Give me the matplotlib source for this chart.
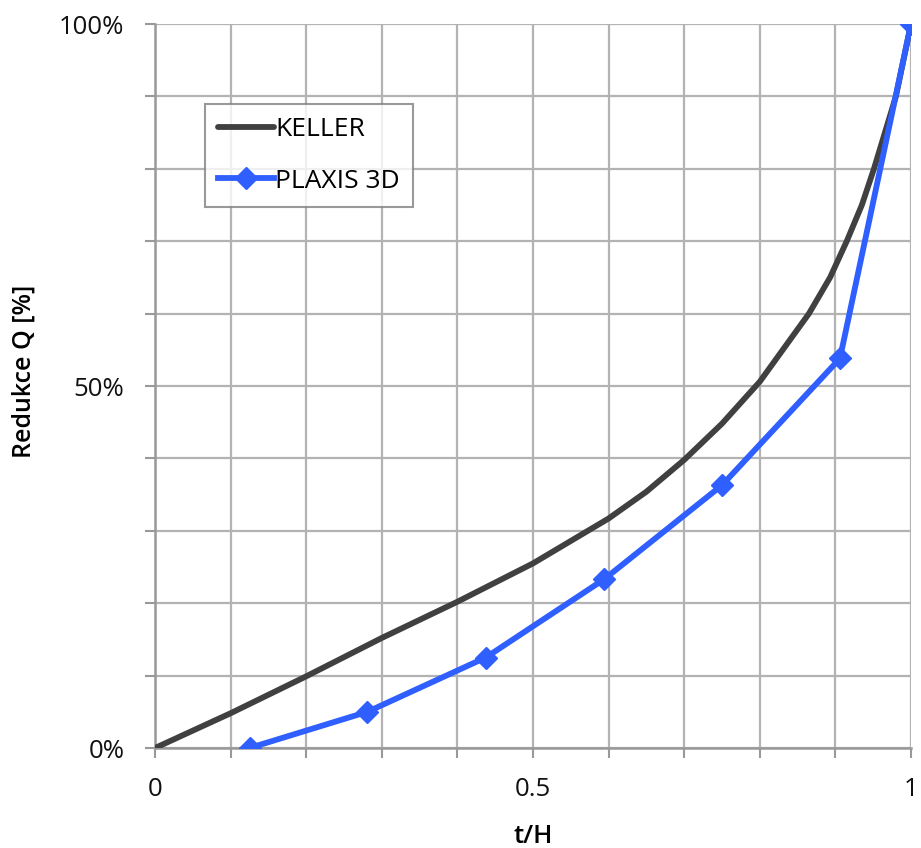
import matplotlib.pyplot as plt
from matplotlib.ticker import MultipleLocator, FixedLocator

plt.rcParams['font.family'] = ['Open Sans', 'DejaVu Sans']

# KELLER curve
keller_x = [0.0, 0.1, 0.2, 0.3, 0.4, 0.5, 0.6, 0.65, 0.7, 0.75, 0.8,
            0.865, 0.893, 0.915, 0.935, 0.951, 0.98, 1.0]
keller_y = [0.0, 4.8, 9.9, 15.2, 20.2, 25.5, 31.7, 35.4, 39.8, 44.8, 50.6,
            60.0, 65.0, 70.0, 75.0, 80.0, 90.0, 100.0]

# PLAXIS 3D points
plaxis_x = [0.125, 0.281, 0.4375, 0.594, 0.75, 0.906, 1.0]
plaxis_y = [0.0, 5.0, 12.5, 23.3, 36.3, 53.8, 100.0]

x_labels = ['0', '0.5', '1']
y_labels = ['0%', '50%', '100%']

fig = plt.figure(figsize=(9.21, 8.48), dpi=100)
ax = fig.add_axes([155 / 921, 1 - 748 / 848, 756 / 921, 724 / 848])

ax.plot(keller_x, keller_y, color='#404040', lw=4.2, label='KELLER', zorder=3,
        solid_capstyle='round', solid_joinstyle='round')
ax.plot(plaxis_x, plaxis_y, color='#2f5fff', lw=4.2, marker='D', markersize=11,
        label='PLAXIS 3D', zorder=4)

ax.set_xlim(0, 1)
ax.set_ylim(0, 100)

ax.xaxis.set_major_locator(FixedLocator([0, 0.5, 1]))
ax.set_xticklabels(x_labels)
ax.xaxis.set_minor_locator(MultipleLocator(0.1))
ax.yaxis.set_major_locator(FixedLocator([0, 50, 100]))
ax.set_yticklabels(y_labels)
ax.yaxis.set_minor_locator(MultipleLocator(10))

ax.tick_params(which='both', color='#999999', width=1.5, length=7,
               labelsize=18.5, labelcolor='#111111')
ax.tick_params(axis='x', which='major', pad=14)
ax.tick_params(axis='y', which='major', pad=15)

ax.grid(True, which='both', color='#b3b3b3', lw=1.6, zorder=0)
ax.set_axisbelow(True)

for s in ['top', 'right']:
    ax.spines[s].set_visible(False)
for s in ['left', 'bottom']:
    ax.spines[s].set_color('#999999')
    ax.spines[s].set_linewidth(1.8)

ax.set_xlabel('t/H', fontsize=18.5, fontweight='semibold', labelpad=16)
ax.set_ylabel('Redukce Q [%]', fontsize=18, fontweight='semibold')
ax.yaxis.set_label_coords(-0.157, 0.5207)

leg = ax.legend(loc='upper left', bbox_to_anchor=((205 - 155) / 756, (748 - 104) / 724),
                fontsize=19, frameon=True, fancybox=False, handlelength=2.1,
                handletextpad=0.05, borderpad=0.5, labelspacing=1.0, borderaxespad=0)
leg.get_frame().set_edgecolor('#808080')
leg.get_frame().set_linewidth(1.5)

fig.savefig('out.png', dpi=100)
